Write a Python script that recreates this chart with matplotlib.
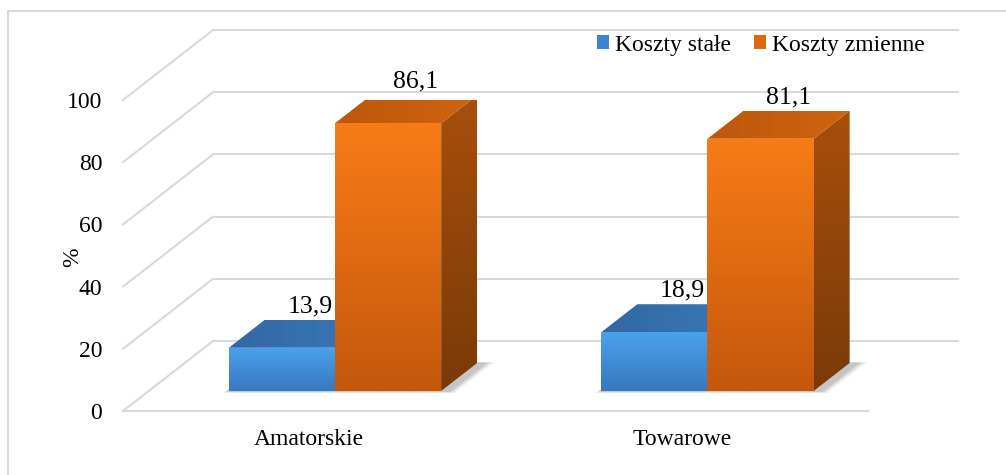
import numpy as np
import matplotlib
matplotlib.use("Agg")
import matplotlib.pyplot as plt
from matplotlib.patches import Polygon, Patch, Rectangle

plt.rcParams['font.family'] = ['Liberation Serif', 'DejaVu Serif']

# Dane
kategorie = ["Amatorskie", "Towarowe"]
serie = ["Koszty stałe", "Koszty zmienne"]
koszty_stale = [13.9, 18.9]
koszty_zmienne = [86.1, 81.1]
etykiety = [["13,9", "18,9"], ["86,1", "81,1"]]
yticks = [0, 20, 40, 60, 80, 100]

# Wyglad 3D (przesuniecie glebi w jednostkach osi)
DX = 0.2416
DV = 22.5
W = 0.285           # szerokosc slupka
D0, D1 = 0.286, 0.686  # glebia slupka

# kolory: (gora, dol) dla frontu, gora, bok
kolory = [
    {"front": ("#4aa2ec", "#3778bf"), "top": ("#3268a4", "#3a78b8"), "side": ("#2f5f96", "#22487a"), "leg": "#3d86cf"},
    {"front": ("#f87c16", "#c4580d"), "top": ("#bd570c", "#d0640f"), "side": ("#a84f0c", "#7a3a08"), "leg": "#dc6a12"},
]
GRID = "#d9d9d9"


def proj(x, v, d):
    return (x + DX * d, v + DV * d)


def gradient_poly(ax, pts, c_top, c_bot, z, horizontal=False):
    poly = Polygon(pts, closed=True, facecolor="none", edgecolor="none", zorder=z)
    ax.add_patch(poly)
    xs = [p[0] for p in pts]
    ys = [p[1] for p in pts]
    c1 = np.array(matplotlib.colors.to_rgb(c_top))
    c2 = np.array(matplotlib.colors.to_rgb(c_bot))
    t = np.linspace(0, 1, 64)
    grad = c1[None, :] * (1 - t[:, None]) + c2[None, :] * t[:, None]
    if horizontal:
        img = grad[None, :, :]
    else:
        img = grad[:, None, :]
    im = ax.imshow(img, extent=(min(xs), max(xs), min(ys), max(ys)), origin="upper",
                   aspect="auto", zorder=z, interpolation="bilinear")
    im.set_clip_path(poly)


fig = plt.figure(figsize=(10.06, 4.75), dpi=100)
ax = fig.add_axes([123 / 1006, 1 - 411 / 475, 745 / 1006, 311 / 475])

# ramka wykresu
fig.patches.append(Rectangle((8 / 1006, -0.2), 1.2, 1.2 - 11 / 475, transform=fig.transFigure,
                             facecolor="none", edgecolor=GRID, linewidth=1.5, zorder=0))

x_lo, x_hi = -0.5, len(kategorie) - 0.5

# siatka: sciana tylna i boczna
for v in yticks:
    a = proj(x_lo, v, 1)
    b = proj(x_hi, v, 1)
    ax.plot([a[0], b[0]], [a[1], b[1]], color=GRID, lw=1.5, zorder=1, clip_on=False)
    c = proj(x_lo, v, 0)
    ax.plot([c[0], a[0]], [c[1], a[1]], color=GRID, lw=1.5, zorder=1, clip_on=False)
# podloga - przednia krawedz
ax.plot([x_lo, x_hi], [0, 0], color=GRID, lw=1.5, zorder=1, clip_on=False)

wartosci = [koszty_stale, koszty_zmienne]
for i in range(len(kategorie)):
    # cien na podlodze
    for k, al in enumerate([0.05, 0.07, 0.09, 0.12]):
        e = 0.03 - k * 0.006
        pts = [proj(i - W - e * 0.3, 0, D0 - e), proj(i + W + e + 0.015, 0, D0 - e),
               proj(i + W + e + 0.015, 0, D1 + e * 0.5), proj(i - W - e * 0.3, 0, D1 + e * 0.5)]
        ax.add_patch(Polygon(pts, closed=True, facecolor="#404040", edgecolor="none",
                             alpha=al, zorder=2))
    for j in range(len(serie)):
        v = wartosci[j][i]
        x0 = i - W + j * W
        x1 = x0 + W
        z = 3 + j * 3
        side = [proj(x1, 0, D0), proj(x1, 0, D1), proj(x1, v, D1), proj(x1, v, D0)]
        top = [proj(x0, v, D0), proj(x1, v, D0), proj(x1, v, D1), proj(x0, v, D1)]
        front = [proj(x0, 0, D0), proj(x1, 0, D0), proj(x1, v, D0), proj(x0, v, D0)]
        gradient_poly(ax, side, *kolory[j]["side"], z)
        gradient_poly(ax, top, *kolory[j]["top"], z + 1, horizontal=True)
        gradient_poly(ax, front, *kolory[j]["front"], z + 2)
        lx, ly = proj((x0 + x1) / 2, v, D1 - 0.09)
        ly = proj(0, v, D1)[1]
        ax.annotate(etykiety[j][i], (lx, ly), xytext=(0, 5.5), textcoords="offset points",
                    ha="center", va="baseline", fontsize=18.5, zorder=20, annotation_clip=False)

ax.set_xlim(x_lo, x_hi)
ax.set_ylim(0, 100)
ax.set_xticks(range(len(kategorie)))
ax.set_xticklabels(kategorie, fontsize=17)
ax.set_yticks(yticks)
ax.set_yticklabels([str(t) for t in yticks], fontsize=17)
ax.tick_params(axis="both", length=0)
ax.tick_params(axis="y", pad=15)
ax.tick_params(axis="x", pad=13)
for s in ax.spines.values():
    s.set_visible(False)
ax.patch.set_visible(False)

ax.set_ylabel("%", fontsize=17)
ax.yaxis.set_label_coords(-0.054, 0.495)

uchwyty = [Patch(facecolor=kolory[j]["leg"], edgecolor="none") for j in range(len(serie))]
fig.legend(uchwyty, serie, loc="center", bbox_to_anchor=(761 / 1006, 1 - 45 / 475), ncol=2,
           frameon=False, fontsize=17, handlelength=0.5, handleheight=0.5,
           handletextpad=0.25, columnspacing=1.0, borderpad=0)

fig.savefig("out.png", dpi=100)
